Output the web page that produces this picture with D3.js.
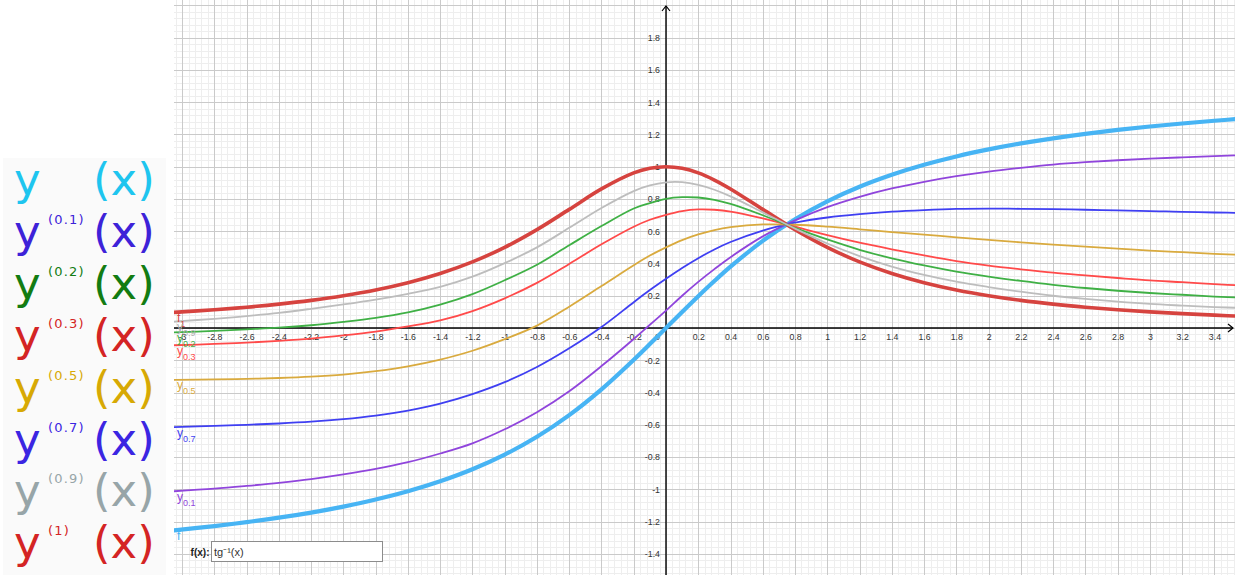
<!DOCTYPE html>
<html>
<head>
<meta charset="utf-8">
<script src="https://cdn.jsdelivr.net/npm/d3@7"></script>
<style>
  html, body { margin: 0; padding: 0; background: #fff; }
  svg { display: block; }
</style>
</head>
<body>
<svg id="chart" width="1245" height="575"></svg>
<script>
// Sample abscissae shared by every curve
const xs = [-3.05, -2.8, -2.6, -2.4, -2.2, -2.0, -1.8, -1.6, -1.4, -1.2, -1.0, -0.8, -0.6, -0.4, -0.2, -0.1,
            0, 0.1, 0.2, 0.3, 0.4, 0.6, 0.8, 1.0, 1.2, 1.4, 1.6, 1.8, 2.0, 2.2, 2.4, 2.6, 2.8, 3.0, 3.2, 3.4, 3.6];

// f(x) = tg⁻¹(x)
const fVals = [-1.2543, -1.2278, -1.2036, -1.1760, -1.1442, -1.1071, -1.0637, -1.0122, -0.9505, -0.8761, -0.7854,
               -0.6747, -0.5404, -0.3805, -0.1974, -0.0997, 0, 0.0997, 0.1974, 0.2915, 0.3805, 0.5404, 0.6747,
               0.7854, 0.8761, 0.9505, 1.0122, 1.0637, 1.1071, 1.1442, 1.1760, 1.2036, 1.2278, 1.2490, 1.2679,
               1.2847, 1.2998];
// f1 : first derivative
const f1Vals = [0.0971, 0.1131, 0.1289, 0.1479, 0.1712, 0.2000, 0.2358, 0.2809, 0.3378, 0.4098, 0.5000, 0.6098,
                0.7353, 0.8621, 0.9615, 0.9901, 1.0000, 0.9901, 0.9615, 0.9174, 0.8621, 0.7353, 0.6098, 0.5000,
                0.4098, 0.3378, 0.2809, 0.2358, 0.2000, 0.1712, 0.1479, 0.1289, 0.1131, 0.1000, 0.0890, 0.0796,
                0.0716];
// fractional orders
const y01Vals = [-1.012, -0.996, -0.979, -0.960, -0.937, -0.908, -0.874, -0.832, -0.778, -0.715, -0.628, -0.522,
                 -0.392, -0.236, -0.068, 0.020, 0.108, 0.200, 0.286, 0.365, 0.439, 0.568, 0.667, 0.749, 0.813,
                 0.865, 0.906, 0.941, 0.970, 0.993, 1.013, 1.028, 1.040, 1.050, 1.058, 1.066, 1.072];
const y02Vals = [-0.027, -0.018, -0.008, 0.002, 0.017, 0.038, 0.063, 0.097, 0.145, 0.210, 0.296, 0.392, 0.513,
                 0.632, 0.741, 0.774, 0.801, 0.811, 0.809, 0.795, 0.769, 0.699, 0.621, 0.549, 0.485, 0.432, 0.388,
                 0.350, 0.319, 0.292, 0.268, 0.248, 0.231, 0.217, 0.206, 0.195, 0.187];
const y03Vals = [-0.107, -0.099, -0.091, -0.080, -0.066, -0.046, -0.022, 0.010, 0.047, 0.105, 0.184, 0.280, 0.397,
                 0.519, 0.628, 0.671, 0.702, 0.725, 0.735, 0.733, 0.722, 0.680, 0.628, 0.576, 0.529, 0.488, 0.450,
                 0.415, 0.387, 0.364, 0.343, 0.326, 0.310, 0.295, 0.284, 0.272, 0.262];
const y05Vals = [-0.322, -0.319, -0.315, -0.310, -0.302, -0.289, -0.268, -0.238, -0.196, -0.141, -0.069, 0.015,
                 0.132, 0.260, 0.389, 0.449, 0.500, 0.545, 0.580, 0.607, 0.625, 0.642, 0.640, 0.628, 0.612, 0.595,
                 0.579, 0.562, 0.546, 0.531, 0.517, 0.504, 0.492, 0.480, 0.470, 0.460, 0.452];
const y07Vals = [-0.615, -0.607, -0.600, -0.592, -0.581, -0.565, -0.543, -0.512, -0.469, -0.410, -0.336, -0.242,
                 -0.126, 0.006, 0.160, 0.235, 0.305, 0.372, 0.433, 0.487, 0.533, 0.604, 0.653, 0.685, 0.706, 0.721,
                 0.731, 0.738, 0.740, 0.739, 0.737, 0.733, 0.729, 0.725, 0.720, 0.716, 0.713];
const y09Vals = [0.040, 0.057, 0.074, 0.094, 0.119, 0.146, 0.176, 0.212, 0.255, 0.318, 0.402, 0.500, 0.621, 0.744,
                 0.849, 0.884, 0.903, 0.904, 0.887, 0.857, 0.816, 0.717, 0.616, 0.524, 0.446, 0.381, 0.329, 0.287,
                 0.254, 0.225, 0.200, 0.180, 0.163, 0.149, 0.139, 0.130, 0.123];

// Tick labels
const xTicks = [-3, -2.8, -2.6, -2.4, -2.2, -2, -1.8, -1.6, -1.4, -1.2, -1, -0.8, -0.6, -0.4, -0.2,
                0.2, 0.4, 0.6, 0.8, 1, 1.2, 1.4, 1.6, 1.8, 2, 2.2, 2.4, 2.6, 2.8, 3, 3.2, 3.4];
const yTicks = [-1.4, -1.2, -1, -0.8, -0.6, -0.4, -0.2, 0.2, 0.4, 0.6, 0.8, 1, 1.2, 1.4, 1.6, 1.8];

// Curve names (main letter + subscript)
const curveNames = [["f", ""], ["f", "1"], ["y", "0.1"], ["y", "0.7"], ["y", "0.5"], ["y", "0.3"], ["y", "0.2"], ["y", "0.9"]];
const curveData = [fVals, f1Vals, y01Vals, y07Vals, y05Vals, y03Vals, y02Vals, y09Vals];

// Legend rows
const legendOrders = ["", "(0.1)", "(0.2)", "(0.3)", "(0.5)", "(0.7)", "(0.9)", "(1)"];

// ---------------------------------------------------------------- styles
const curveStyles = [
  { color: "#47b4f4", width: 4.2 },
  { color: "#d6433f", width: 3.6 },
  { color: "#9045dc", width: 1.8 },
  { color: "#3f3ff2", width: 1.8 },
  { color: "#d9aa3e", width: 1.8 },
  { color: "#ff4a4a", width: 1.8 },
  { color: "#3fb045", width: 1.8 },
  { color: "#bdbdbd", width: 1.8 }
];
const legendColors = ["#1ec5ef", "#3d22d8", "#127c12", "#d42424", "#d7a904", "#3b25e2", "#97a5a8", "#d42424"];

const W = 1245, H = 575;
const view = { left: 174, right: 1235, top: 0, bottom: 575 };
const origin = { x: 666, y: 328 }, unit = 161.3;

const svg = d3.select("#chart");

const x = d3.scaleLinear()
  .domain([(view.left - origin.x) / unit, (view.right - origin.x) / unit])
  .range([view.left, view.right]);
const y = d3.scaleLinear()
  .domain([(origin.y - view.bottom) / unit, (origin.y - view.top) / unit])
  .range([view.bottom, view.top]);

const crisp = v => Math.round(v) + 0.5;

svg.append("defs").append("clipPath").attr("id", "view")
  .append("rect")
  .attr("x", view.left).attr("y", view.top)
  .attr("width", view.right - view.left).attr("height", view.bottom - view.top);

const plot = svg.append("g").attr("clip-path", "url(#view)");

// ---------------------------------------------------------------- grid
const [xd0, xd1] = x.domain();
const [yd0, yd1] = y.domain();
const minorStep = 0.04;
const xMinor = d3.range(Math.ceil(xd0 / minorStep), Math.floor(xd1 / minorStep) + 1);
const yMinor = d3.range(Math.ceil(yd0 / minorStep), Math.floor(yd1 / minorStep) + 1);

const grid = plot.append("g").attr("shape-rendering", "crispEdges");
grid.selectAll("line.vminor").data(xMinor.filter(k => k % 5 !== 0)).join("line")
  .attr("x1", k => crisp(x(k * minorStep))).attr("x2", k => crisp(x(k * minorStep)))
  .attr("y1", view.top).attr("y2", view.bottom)
  .attr("stroke", "#eeeeee").attr("stroke-width", 1);
grid.selectAll("line.hminor").data(yMinor.filter(k => k % 5 !== 0)).join("line")
  .attr("y1", k => crisp(y(k * minorStep))).attr("y2", k => crisp(y(k * minorStep)))
  .attr("x1", view.left).attr("x2", view.right)
  .attr("stroke", "#eeeeee").attr("stroke-width", 1);
grid.selectAll("line.vmajor").data(xMinor.filter(k => k % 5 === 0)).join("line")
  .attr("x1", k => crisp(x(k * minorStep))).attr("x2", k => crisp(x(k * minorStep)))
  .attr("y1", view.top).attr("y2", view.bottom)
  .attr("stroke", "#cacaca").attr("stroke-width", 1);
grid.selectAll("line.hmajor").data(yMinor.filter(k => k % 5 === 0)).join("line")
  .attr("y1", k => crisp(y(k * minorStep))).attr("y2", k => crisp(y(k * minorStep)))
  .attr("x1", view.left).attr("x2", view.right)
  .attr("stroke", "#cacaca").attr("stroke-width", 1);

// ---------------------------------------------------------------- axes
const axisY0 = y(0), axisX0 = x(0);
const xEnd = view.right - 2, yEnd = view.top + 6;
const axes = plot.append("g").attr("stroke", "#000").attr("fill", "none");
axes.append("line").attr("x1", view.left).attr("x2", xEnd)
  .attr("y1", axisY0).attr("y2", axisY0).attr("stroke-width", 1.4);
axes.append("line").attr("x1", axisX0).attr("x2", axisX0)
  .attr("y1", view.bottom).attr("y2", yEnd).attr("stroke-width", 1.4);
axes.append("path").attr("stroke-width", 1.2)
  .attr("d", `M${xEnd - 5},${axisY0 - 4}L${xEnd},${axisY0}L${xEnd - 5},${axisY0 + 4}`);
axes.append("path").attr("stroke-width", 1.2)
  .attr("d", `M${axisX0 - 4},${yEnd + 5}L${axisX0},${yEnd}L${axisX0 + 4},${yEnd + 5}`);

const fmt = d => String(Math.round(d * 10) / 10);
const labelFont = "'Liberation Sans', Arial, sans-serif";

const gx = plot.append("g").attr("transform", `translate(0,${axisY0})`)
  .call(d3.axisBottom(x).tickValues(xTicks).tickFormat(fmt).tickSize(0).tickPadding(5.5));
gx.select(".domain").remove();
gx.selectAll("text").attr("font-size", 8.8).attr("font-family", labelFont).attr("fill", "#333");

const gy = plot.append("g").attr("transform", `translate(${axisX0},0)`)
  .call(d3.axisLeft(y).tickValues(yTicks).tickFormat(fmt).tickSize(0).tickPadding(6));
gy.select(".domain").remove();
gy.selectAll("text").attr("font-size", 8.8).attr("font-family", labelFont).attr("fill", "#333");

plot.append("text").attr("x", axisX0 - 6).attr("y", axisY0 + 12)
  .attr("text-anchor", "end").attr("font-size", 8.8).attr("font-family", labelFont)
  .attr("fill", "#333").text("0");

// ---------------------------------------------------------------- curves
const line = d3.line()
  .x(d => x(d[0])).y(d => y(d[1]))
  .curve(d3.curveCatmullRom.alpha(0.5));

const order = [0, 1, 2, 3, 4, 5, 6, 7];
plot.append("g").selectAll("path").data(order).join("path")
  .attr("fill", "none")
  .attr("stroke", i => curveStyles[i].color)
  .attr("stroke-width", i => curveStyles[i].width)
  .attr("stroke-linejoin", "round").attr("stroke-linecap", "round")
  .attr("d", i => line(xs.map((v, j) => [v, curveData[i][j]])));

// curve captions placed just below the left end of each curve
const captions = plot.append("g").attr("font-family", labelFont);
order.forEach(i => {
  const base = y(curveData[i][0]) + 9.5;
  const t = captions.append("text")
    .attr("x", view.left + 3).attr("y", base)
    .attr("fill", curveStyles[i].color === "#bdbdbd" ? "#b0b0b0" : curveStyles[i].color)
    .attr("font-size", 12);
  t.append("tspan").text(curveNames[i][0]);
  if (curveNames[i][1]) {
    t.append("tspan").attr("dy", 5).attr("font-size", 9).text(curveNames[i][1]);
  }
});

// ---------------------------------------------------------------- legend
const legend = svg.append("g");
legend.append("rect").attr("x", 3).attr("y", 158).attr("width", 163).attr("height", H - 158)
  .attr("fill", "#fafafa");
legendOrders.forEach((ord, i) => {
  const base = 195 + 51.9 * i;
  const g = legend.append("g").attr("fill", legendColors[i]).attr("font-family", "'DejaVu Sans', sans-serif");
  g.append("text").attr("x", 14).attr("y", base).attr("font-size", 45).text("y");
  if (ord) {
    g.append("text").attr("x", 48).attr("y", base - 23).attr("font-size", 13)
      .attr("letter-spacing", 1.2).text(ord);
  }
  g.append("text").attr("x", 93).attr("y", base).attr("font-size", 45).text("(x)");
});

// ---------------------------------------------------------------- input bar
const bar = svg.append("g").attr("font-family", labelFont);
bar.append("rect").attr("x", 211.5).attr("y", 541.5).attr("width", 171).attr("height", 20)
  .attr("fill", "#fff").attr("stroke", "#8c8c8c").attr("stroke-width", 1);
bar.append("text").attr("x", 209.5).attr("y", 556).attr("text-anchor", "end")
  .attr("font-size", 10).attr("font-weight", "bold").attr("fill", "#222").text("f(x):");
bar.append("text").attr("x", 214).attr("y", 556)
  .attr("font-size", 11).attr("fill", "#333").text("tg⁻¹(x)");
</script>
</body>
</html>
